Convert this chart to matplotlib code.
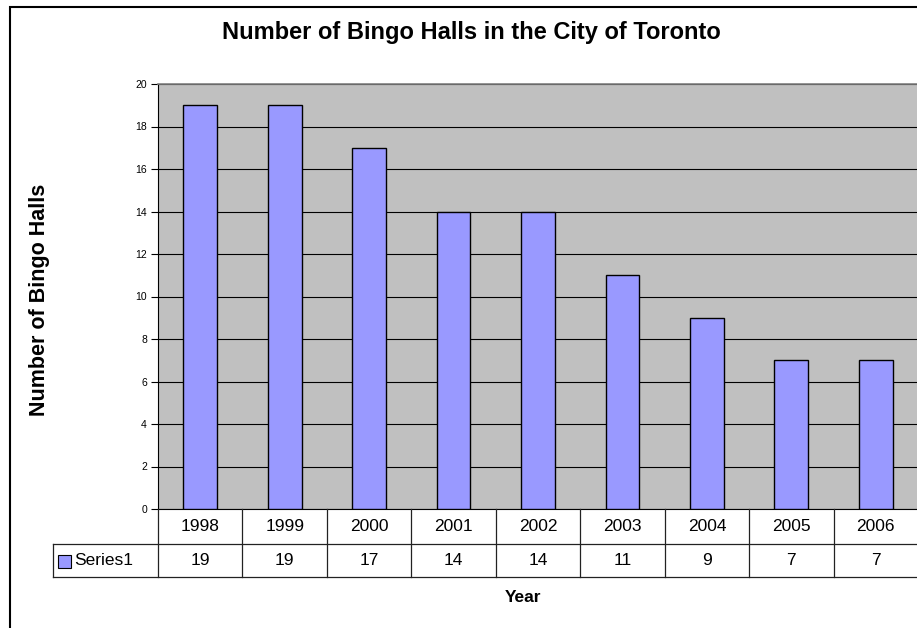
import matplotlib
matplotlib.use("Agg")
import matplotlib.pyplot as plt
from matplotlib.patches import Rectangle
from matplotlib.transforms import blended_transform_factory
from matplotlib.lines import Line2D

plt.rcParams['font.family'] = ['Liberation Sans', 'DejaVu Sans']

years = ["1998", "1999", "2000", "2001", "2002", "2003", "2004", "2005", "2006"]
halls = [19, 19, 17, 14, 14, 11, 9, 7, 7]
series_name = "Series1"
title = "Number of Bingo Halls in the City of Toronto"
y_label = "Number of Bingo Halls"
x_label = "Year"
y_ticks = list(range(0, 21, 2))

W, H = 917, 628
fig = plt.figure(figsize=(W / 100, H / 100), dpi=100)

def fx(px):
    return px / W

def fy(py):
    return 1 - py / H

left_px, right_px, top_px, bot_px = 158, 918, 84, 509
ax = fig.add_axes([fx(left_px), fy(bot_px), fx(right_px - left_px), fy(top_px) - fy(bot_px)])
ax.set_facecolor('#C0C0C0')

n = len(years)
xs = list(range(n))
ax.bar(xs, halls, width=0.4, color='#9999FF', edgecolor='black', linewidth=1.0, zorder=3)
ax.set_xlim(-0.5, n - 0.5)
ax.set_ylim(0, 20)
ax.set_yticks(y_ticks)
ax.set_yticklabels([str(t) for t in y_ticks], fontsize=7.5)
ax.tick_params(axis='y', direction='out', length=5, width=0.8, pad=3)
ax.set_xticks([])
ax.yaxis.grid(True, color='black', linewidth=0.8, zorder=1)
ax.set_axisbelow(True)
ax.spines['right'].set_visible(False)
ax.spines['top'].set_color('#808080')
ax.spines['top'].set_linewidth(1.2)
ax.spines['left'].set_color('black')
ax.spines['left'].set_linewidth(0.8)
ax.spines['bottom'].set_color('black')
ax.spines['bottom'].set_linewidth(0.8)

# Data table
tr = blended_transform_factory(ax.transData, fig.transFigure)
row1_top, row1_bot, row2_bot = 509, 544, 577
table_left_px = 53
lc = '#222222'
for py in (row1_bot, row2_bot):
    fig.add_artist(Line2D([fx(table_left_px), fx(right_px)], [fy(py), fy(py)],
                          color=lc, linewidth=0.9, transform=fig.transFigure))
for i in range(n + 1):
    b = i - 0.5
    fig.add_artist(Line2D([b, b], [fy(row1_top), fy(row2_bot)], color=lc,
                          linewidth=0.9, transform=tr))
fig.add_artist(Line2D([fx(table_left_px), fx(table_left_px)], [fy(row1_bot), fy(row2_bot)],
                      color=lc, linewidth=0.9, transform=fig.transFigure))
for i in range(n):
    fig.text(xs[i], fy((row1_top + row1_bot) / 2), years[i], transform=tr,
             ha='center', va='center', fontsize=12.5)
    fig.text(xs[i], fy((row1_bot + row2_bot) / 2), str(halls[i]), transform=tr,
             ha='center', va='center', fontsize=12.5)
# legend key
fig.add_artist(Rectangle((fx(58), fy(568)), fx(13), fy(555) - fy(568), facecolor='#9999FF',
                         edgecolor='black', linewidth=0.8, transform=fig.transFigure))
fig.text(fx(74), fy((row1_bot + row2_bot) / 2), series_name, ha='left', va='center', fontsize=12.5)

# Titles
fig.text(fx(471), fy(32), title, ha='center', va='center', fontsize=17, fontweight='bold')
fig.text(fx(40), fy(300), y_label, ha='center', va='center', rotation=90, fontsize=15.5, fontweight='bold')
fig.text(fx(523), fy(597), x_label, ha='center', va='center', fontsize=12.5, fontweight='bold')

# outer chart frame
fig.add_artist(Rectangle((fx(10), -0.1), 1.2, fy(7) + 0.1, facecolor='none', edgecolor='black',
                         linewidth=1.5, transform=fig.transFigure))

fig.savefig('out.png', dpi=100)
